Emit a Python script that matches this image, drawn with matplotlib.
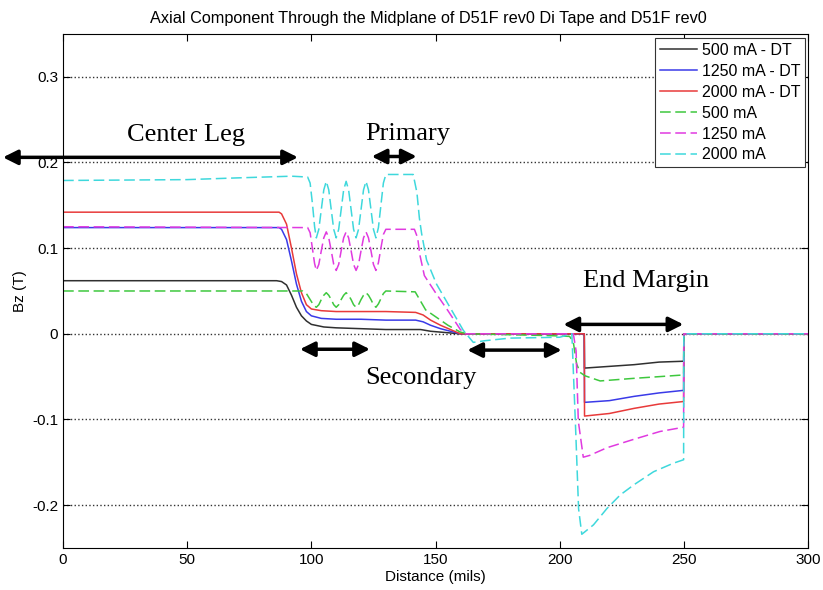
import matplotlib
matplotlib.use("Agg")
import matplotlib.pyplot as plt

plt.rcParams['font.family'] = ['Liberation Sans', 'DejaVu Sans']
plt.rcParams['axes.unicode_minus'] = False

# axial field along the midplane, distance in mils, Bz in tesla
x_500dt = [0, 86, 88, 90, 92, 94, 96, 98, 100, 105, 110, 120, 130, 140, 144, 148, 152, 156, 160,
           209.9, 210, 220, 230, 240, 249.9, 250, 300]
y_500dt = [0.062, 0.062, 0.061, 0.057, 0.045, 0.031, 0.021, 0.015, 0.011, 0.008, 0.007, 0.006, 0.005,
           0.005, 0.005, 0.003, 0.002, 0.001, 0.0,
           0.0, -0.040, -0.038, -0.036, -0.033, -0.032, 0.0, 0.0]

x_1250dt = [0, 87, 88, 90, 92, 94, 96, 98, 100, 104, 110, 120, 130, 142, 145, 148, 152, 156, 160,
            209.9, 210, 220, 230, 240, 249.9, 250, 300]
y_1250dt = [0.124, 0.124, 0.122, 0.110, 0.085, 0.058, 0.038, 0.026, 0.021, 0.018, 0.017, 0.017, 0.016,
            0.016, 0.014, 0.010, 0.006, 0.003, 0.0,
            0.0, -0.080, -0.078, -0.073, -0.069, -0.066, 0.0, 0.0]

x_2000dt = [0, 87, 88, 90, 92, 94, 96, 98, 100, 104, 110, 120, 130, 142, 145, 148, 152, 156, 160,
            209.9, 210, 220, 230, 240, 249.9, 250, 300]
y_2000dt = [0.142, 0.142, 0.140, 0.128, 0.100, 0.070, 0.048, 0.034, 0.029, 0.027, 0.026, 0.026, 0.026,
            0.025, 0.022, 0.016, 0.010, 0.005, 0.0,
            0.0, -0.096, -0.093, -0.087, -0.082, -0.079, 0.0, 0.0]

# distances sampled through the primary winding (ripple from the turns)
x_primary = [102, 103, 104, 105, 106, 107, 108, 109, 110, 111, 112, 113, 114, 115, 116, 117, 118,
             119, 120, 121, 122, 123, 124, 125, 126, 127, 128, 129, 130]

x_500 = ([0, 96.5, 98, 99.5, 101] + x_primary +
         [141.8, 144, 146, 150, 155, 160, 163, 195, 204, 205.5, 206.8, 208.2, 210.2, 216.3, 229.7,
          240, 249.9, 250, 300])
y_500 = ([0.050, 0.050, 0.047, 0.040, 0.033] +
         [0.031, 0.034, 0.040, 0.045, 0.048, 0.045, 0.040, 0.034, 0.031, 0.034, 0.040, 0.045, 0.048,
          0.045, 0.040, 0.034, 0.031, 0.034, 0.040, 0.045, 0.048, 0.045, 0.040, 0.034, 0.031, 0.035,
          0.041, 0.047, 0.050] +
         [0.049, 0.038, 0.028, 0.020, 0.010, 0.002, 0.0, -0.002, -0.003, -0.010, -0.035, -0.045,
          -0.049, -0.055, -0.052, -0.050, -0.048, 0.0, 0.0])

x_1250 = ([0, 98.5, 99.5, 100.5, 101.3] + x_primary +
          [141.5, 142.8, 143.7, 145.5, 150, 155, 160, 162, 205.5, 206.6, 207.5, 209.5, 212, 219, 230,
           240.4, 249.9, 250, 300])
y_1250 = ([0.125, 0.124, 0.118, 0.098, 0.082] +
          [0.074, 0.081, 0.097, 0.112, 0.119, 0.112, 0.097, 0.081, 0.074, 0.081, 0.097, 0.112, 0.119,
           0.112, 0.097, 0.081, 0.074, 0.081, 0.097, 0.112, 0.119, 0.112, 0.097, 0.081, 0.074, 0.083,
           0.100, 0.116, 0.122] +
          [0.122, 0.112, 0.092, 0.068, 0.048, 0.027, 0.005, 0.0, 0.0, -0.020, -0.102, -0.144, -0.142,
           -0.133, -0.123, -0.114, -0.109, 0.0, 0.0])

x_2000 = ([0, 50, 70, 92, 98.5, 99.5, 100.5, 101.3] + x_primary +
          [141, 142.5, 143.5, 144.4, 146.4, 150.4, 155.8, 161.2, 165.2, 170, 180, 200, 204.9, 206.3,
           207.6, 208.9, 213.6, 219, 224.4, 230, 237.8, 245.8, 249.9, 250, 300])
y_2000 = ([0.179, 0.180, 0.182, 0.184, 0.183, 0.176, 0.150, 0.125] +
          [0.112, 0.122, 0.145, 0.168, 0.178, 0.168, 0.145, 0.122, 0.112, 0.122, 0.145, 0.168, 0.178,
           0.168, 0.145, 0.122, 0.112, 0.122, 0.145, 0.168, 0.178, 0.168, 0.145, 0.122, 0.112, 0.124,
           0.150, 0.176, 0.186] +
          [0.186, 0.165, 0.135, 0.117, 0.086, 0.058, 0.031, 0.004, -0.010, -0.008, -0.005, -0.004,
           0.0, -0.102, -0.204, -0.234, -0.223, -0.204, -0.188, -0.176, -0.161, -0.151, -0.147, 0.0,
           0.0])

labels = ['500 mA - DT', '1250 mA - DT', '2000 mA - DT', '500 mA', '1250 mA', '2000 mA']
colors = ['#303030', '#3a3ae8', '#e83a3a', '#3ec83e', '#e03ae0', '#3ed8dc']

ytick_vals = [-0.2, -0.1, 0, 0.1, 0.2, 0.3]
ytick_text = ['-0.2', '-0.1', '0', '0.1', '0.2', '0.3']
xtick_vals = [0, 50, 100, 150, 200, 250, 300]

fig = plt.figure(figsize=(8.23, 5.90), dpi=100)
ax = fig.add_axes([0.0766, 0.0712, 0.9052, 0.8712])

series = [(x_500dt, y_500dt), (x_1250dt, y_1250dt), (x_2000dt, y_2000dt),
          (x_500, y_500), (x_1250, y_1250), (x_2000, y_2000)]
for i, (xs, ys) in enumerate(series):
    ls = '-' if i < 3 else (0, (7, 3))
    ax.plot(xs, ys, color=colors[i], lw=1.1, linestyle=ls, label=labels[i])

ax.set_xlim(0, 300)
ax.set_ylim(-0.25, 0.35)
ax.set_xticks(xtick_vals)
ax.set_xticklabels([str(v) for v in xtick_vals])
ax.set_yticks(ytick_vals)
ax.set_yticklabels(ytick_text)
ax.tick_params(direction='in', top=True, right=True, labelsize=11, length=5)
ax.yaxis.grid(True, linestyle=':', color='#333333', lw=1.0)
ax.set_axisbelow(True)

ax.set_title('Axial Component Through the Midplane of D51F rev0 Di Tape and D51F rev0',
             fontsize=11.7, pad=8, x=0.49)
ax.set_xlabel('Distance (mils)', fontsize=11, labelpad=2)
ax.set_ylabel('Bz (T)', fontsize=11, labelpad=4)

leg = ax.legend(loc='upper right', bbox_to_anchor=(0.996, 0.992), borderaxespad=0,
                fontsize=11.5, handlelength=2.3, labelspacing=0.37, fancybox=False,
                framealpha=1, edgecolor='#333333', borderpad=0.3, handletextpad=0.3)
leg.get_frame().set_linewidth(0.8)

# region markers
arrow = dict(arrowstyle='<|-|>', lw=2.5, color='k', mutation_scale=22, shrinkA=0, shrinkB=0)
spans = [(-24.2, 94.6, 0.206), (124.3, 142.4, 0.207), (95.4, 123.6, -0.018),
         (162.8, 200.8, -0.019), (201.5, 249.8, 0.011)]
for x0, x1, yy in spans:
    ax.annotate('', xy=(x0, yy), xytext=(x1, yy), arrowprops=arrow, annotation_clip=False)

serif = dict(family='Liberation Serif', fontsize=19, ha='center', va='center')
ax.text(49.5, 0.232, 'Center Leg', **serif)
ax.text(139, 0.233, 'Primary', **serif)
ax.text(144.2, -0.052, 'Secondary', **serif)
ax.text(234.8, 0.062, 'End Margin', **serif)

fig.savefig('out.png', dpi=100)
